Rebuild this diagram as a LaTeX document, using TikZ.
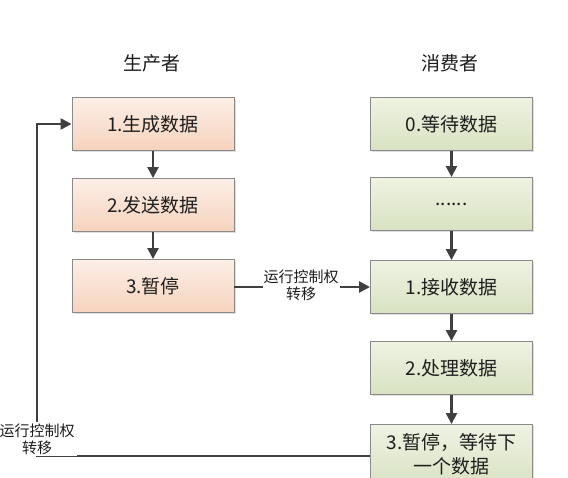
\documentclass[tikz,border=0pt]{standalone}
\usepackage{fontspec}
\setmainfont{Noto Sans CJK SC}
\usetikzlibrary{arrows.meta,shadows}
\definecolor{txt}{HTML}{1E1E1E}
\definecolor{edge}{HTML}{8A8A8A}
\definecolor{arr}{HTML}{404040}
\definecolor{ptop}{HTML}{FCEFE7}
\definecolor{pbot}{HTML}{F6D3BD}
\definecolor{gtop}{HTML}{EFF3E3}
\definecolor{gbot}{HTML}{D8E2C1}
\tikzset{
  x=1pt,y=-1pt,
  boxbase/.style={draw=edge,line width=0.9pt,minimum width=162pt,minimum height=53pt,
    inner sep=0pt,text=txt,font=\fontsize{19}{27}\selectfont,align=center,
    drop shadow={shadow xshift=1.5pt,shadow yshift=-1.5pt,opacity=0.25}},
  prodbox/.style={boxbase,top color=ptop,bottom color=pbot},
  consbox/.style={boxbase,top color=gtop,bottom color=gbot},
  title/.style={text=txt,font=\fontsize{19}{20}\selectfont},
  lbl/.style={fill=white,inner sep=1pt,text=txt,align=center,font=\fontsize{15}{17}\selectfont},
  conn/.style={draw=arr,line width=2.4pt,-{Triangle[length=11pt,width=11pt]}},
  plain/.style={draw=arr,line width=2.4pt}
}
\begin{document}
\begin{tikzpicture}
\useasboundingbox (0,0) rectangle (568,477);
\node[title] (tp) at (152,63) {生产者};
\node[title] (tc) at (450,63) {消费者};
\node[prodbox] (l1) at (153,124) {1.生成数据};
\node[prodbox] (l2) at (153,205) {2.发送数据};
\node[prodbox] (l3) at (153,286) {3.暂停};
\node[consbox] (r0) at (451.5,124) {0.等待数据};
\node[consbox] (r1) at (451.5,204) {......};
\node[consbox] (r2) at (451.5,287) {1.接收数据};
\node[consbox] (r3) at (451.5,368) {2.处理数据};
\node[consbox,minimum height=63pt] (r4) at (451.5,456) {};
\node[text=txt,align=center,inner sep=0pt,font=\fontsize{19}{23.5}\selectfont] (r4t) at (451.5,454.5) {3.暂停，等待下\\一个数据};
\draw[conn] (l1) -- (l2);
\draw[conn] (l2) -- (l3);
\draw[conn] (r0) -- (r1);
\draw[conn] (r1) -- (r2);
\draw[conn] (r2) -- (r3);
\draw[conn] (r3) -- (r4);
\draw[conn] (l3.east |- r2.west) -- (r2.west);
\node[lbl] (m) at (301,285) {运行控制权\\转移};
\coordinate (c1) at (37,456);
\coordinate (c2) at (37,124);
\draw[conn] (r4.west) -- (c1) -- (c2) -- (l1.west);
\node[lbl,inner sep=2pt] (b) at (37,439) {运行控制权\\转移};
\end{tikzpicture}
\end{document}
